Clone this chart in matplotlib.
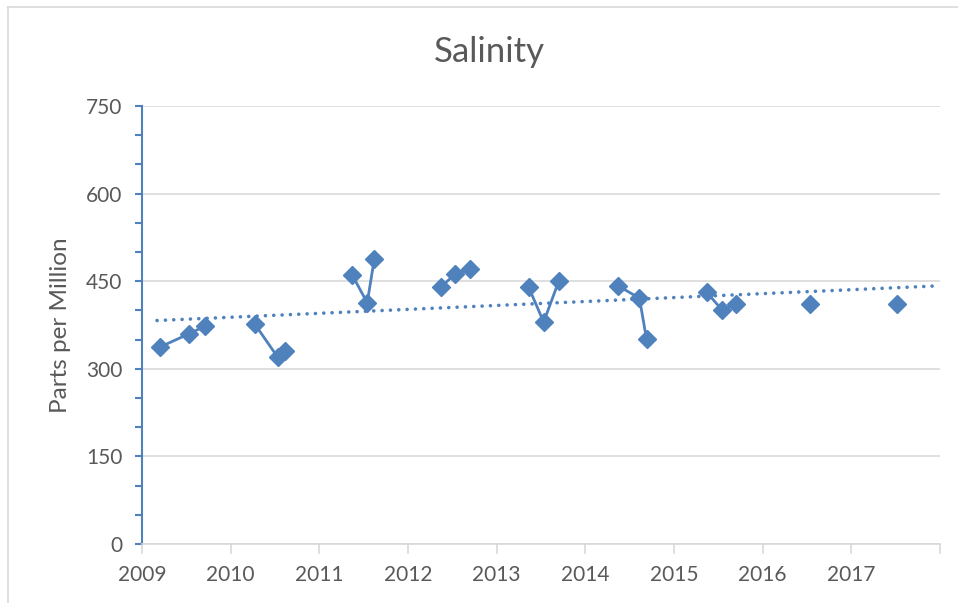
import numpy as np
import matplotlib.pyplot as plt
from matplotlib.lines import Line2D
from matplotlib.ticker import MultipleLocator

# sample dates as decimal years, salinity in ppm
fechas = [2009.20, 2009.53, 2009.71,
          2010.27, 2010.53, 2010.61,
          2011.37, 2011.54, 2011.62,
          2012.37, 2012.53, 2012.70,
          2013.36, 2013.53, 2013.70,
          2014.37, 2014.61, 2014.69,
          2015.37, 2015.54, 2015.70,
          2016.53,
          2017.52]
valores = [337, 360, 373,
           377, 320, 330,
           461, 413, 488,
           440, 462, 471,
           440, 380, 450,
           442, 421, 351,
           431, 401, 411,
           411,
           411]
anios = [2009, 2010, 2011, 2012, 2013, 2014, 2015, 2016, 2017]

azul = "#4F81BD"
gris = "#595959"
plt.rcParams["font.family"] = ["Lato", "DejaVu Sans"]

fig = plt.figure(figsize=(9.58, 6.03), dpi=100)
ax = fig.add_axes([142/958, 1 - 544/603, (940-142)/958, (544-106)/603])

x = np.array(fechas)
y = np.array(valores)

# linea por cada año, sin linea entre años
for a in anios:
    m = np.floor(x) == a
    ax.plot(x[m], y[m], color=azul, lw=2, marker="D", ms=9.5, zorder=3)

# tendencia lineal
p = np.polyfit(x, y, 1)
xt = np.array([x.min() - 0.03, 2018])
ax.plot(xt, np.polyval(p, xt), color=azul, lw=2.6, linestyle=(0, (0.01, 2.3)),
        dash_capstyle="round", zorder=2)

ax.set_xlim(2009, 2018)
ax.set_ylim(0, 750)
ax.yaxis.set_major_locator(MultipleLocator(150))
ax.yaxis.set_minor_locator(MultipleLocator(50))
ax.set_xticks(range(2009, 2019))
ax.set_xticklabels([str(a) for a in anios] + [""])
ax.grid(axis="y", color="#D9D9D9", lw=1.2)
ax.set_axisbelow(True)

for s in ["top", "right"]:
    ax.spines[s].set_visible(False)
ax.spines["left"].set_color(azul)
ax.spines["left"].set_linewidth(1.5)
ax.spines["bottom"].set_color("#D9D9D9")
ax.spines["bottom"].set_linewidth(1.2)
ax.tick_params(axis="y", which="both", colors=azul, direction="out", length=5, width=1.5,
               labelcolor=gris, labelsize=15, pad=9)
ax.tick_params(axis="x", colors="#D9D9D9", direction="out", length=7, width=1.2,
               labelcolor=gris, labelsize=15, pad=8)

ax.set_ylabel("Parts per Million", color=gris, fontsize=17.5, labelpad=11)
fig.text(489/958, 1 - 52/603, "Salinity", ha="center", va="center",
         color=gris, fontsize=25)

# borde del area del grafico
fig.add_artist(Line2D([8/958, 1], [1 - 7/603, 1 - 7/603], color="#D9D9D9", lw=1.2))
fig.add_artist(Line2D([8/958, 8/958], [0, 1 - 7/603], color="#D9D9D9", lw=1.2))

fig.savefig("out.png", dpi=100)
